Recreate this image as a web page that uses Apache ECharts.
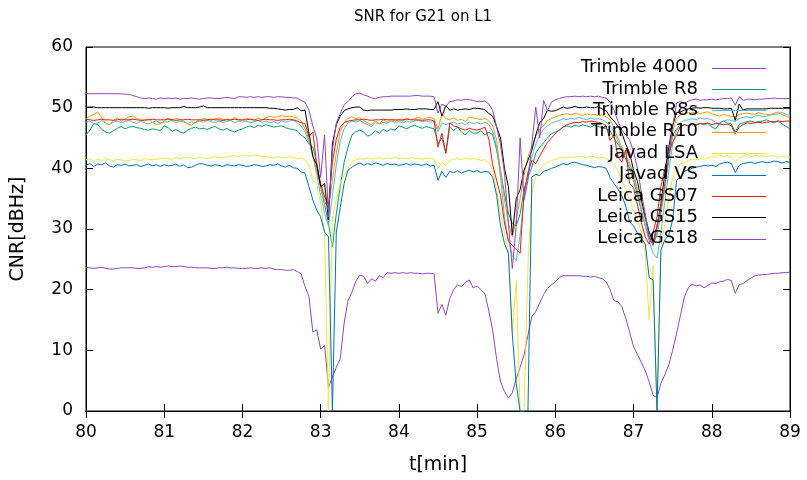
<!DOCTYPE html>
<html><head><meta charset="utf-8">
<script src="https://cdn.jsdelivr.net/npm/echarts@6/dist/echarts.min.js"></script>
<style>html,body{margin:0;padding:0;background:#fff}#c{width:807px;height:480px}</style>
</head><body><div id="c"></div>
<script>
const timeMin = [
80,80.05,80.1,80.15,80.2,80.25,80.3,80.35,80.4,80.45,80.5,80.55,80.6,80.65,80.7,80.75,80.8,80.85,80.9,80.95,
81,81.05,81.1,81.15,81.2,81.25,81.3,81.35,81.4,81.45,81.5,81.55,81.6,81.65,81.7,81.75,81.8,81.85,81.9,81.95,
82,82.05,82.1,82.15,82.2,82.25,82.3,82.35,82.4,82.45,82.5,82.55,82.6,82.65,82.7,82.75,82.8,82.85,82.9,82.95,
83,83.05,83.1,83.15,83.2,83.25,83.3,83.35,83.4,83.45,83.5,83.55,83.6,83.65,83.7,83.75,83.8,83.85,83.9,83.95,
84,84.05,84.1,84.15,84.2,84.25,84.3,84.35,84.4,84.45,84.5,84.55,84.6,84.65,84.7,84.75,84.8,84.85,84.9,84.95,
85,85.05,85.1,85.15,85.2,85.25,85.3,85.35,85.4,85.45,85.5,85.55,85.6,85.65,85.7,85.75,85.8,85.85,85.9,85.95,
86,86.05,86.1,86.15,86.2,86.25,86.3,86.35,86.4,86.45,86.5,86.55,86.6,86.65,86.7,86.75,86.8,86.85,86.9,86.95,
87,87.05,87.1,87.15,87.2,87.25,87.3,87.35,87.4,87.45,87.5,87.55,87.6,87.65,87.7,87.75,87.8,87.85,87.9,87.95,
88,88.05,88.1,88.15,88.2,88.25,88.3,88.35,88.4,88.45,88.5,88.55,88.6,88.65,88.7,88.75,88.8,88.85,88.9,88.95,89];

const trimble4000 = [
23.7,23.6,23.5,23.6,23.7,23.5,23.4,23.4,23.5,23.6,23.6,23.6,23.6,23.5,23.5,23.6,23.8,23.7,23.8,23.7,
23.8,23.9,23.8,23.8,23.9,23.8,23.7,23.7,23.6,23.6,23.6,23.6,23.5,23.5,23.6,23.6,23.7,23.6,23.6,23.5,
23.5,23.5,23.6,23.5,23.5,23.6,23.5,23.6,23.4,23.3,23.3,23.2,23.2,23.3,23.0,22.6,20.5,18.9,13.0,13.4,
10.2,10.8,3.9,5.6,7.2,8.6,14.5,18.2,19.6,21.4,22.4,22.2,21.0,21.8,21.4,22.3,22.0,22.8,22.7,22.8,
22.7,22.8,22.7,22.8,22.7,22.7,22.6,22.7,22.7,22.6,16.1,17.6,15.8,18.5,20.0,20.8,20.5,21.2,21.6,20.3,
20.6,20.0,19.3,16.5,13.2,8.5,4.8,3.2,2.1,3.0,5.3,7.2,9.3,12.5,15.6,16.4,17.8,19.2,20.2,20.8,
21.3,22.0,22.3,22.3,22.3,22.3,22.3,22.2,22.2,22.1,22.2,22.0,21.8,21.3,20.0,18.2,18.0,17.2,15.3,13.0,
10.6,9.3,8.0,6.6,4.8,2.6,2.2,4.6,6.0,7.6,10.0,12.8,15.8,18.8,20.3,20.9,20.6,20.8,20.3,20.7,
21.1,21.0,21.3,21.4,21.7,21.5,19.4,20.8,21.0,21.5,21.9,22.3,22.4,22.5,22.5,22.6,22.7,22.7,22.8,22.8,22.9];

const trimbleR8 = [
45.5,46.3,47.4,47.2,46.4,46.0,45.8,46.2,46.6,46.9,46.5,46.8,46.9,46.7,46.6,46.4,46.3,46.5,46.4,46.2,
47.0,46.7,46.1,46.4,46.0,45.8,46.3,46.6,46.8,46.5,46.6,46.4,46.7,46.9,46.5,46.3,46.6,46.2,46.0,46.3,
46.5,46.8,47.0,46.7,47.1,46.9,47.2,47.0,46.8,46.9,47.0,46.7,46.5,46.4,46.2,45.5,45.0,44.0,43.5,41.0,
37.0,34.0,31.0,27.0,32.5,37.0,41.0,43.5,45.5,46.0,46.3,46.0,45.3,45.6,46.2,45.8,46.4,46.1,46.5,46.3,
47.0,46.8,46.5,46.9,47.1,46.8,46.6,46.9,46.7,46.5,44.1,45.0,42.5,46.8,46.2,46.8,46.0,45.5,46.2,45.8,
45.8,46.2,45.5,46.0,45.5,43.0,39.5,35.8,32.6,30.9,30.5,32.5,36.5,38.6,40.2,42.5,43.5,44.2,45.0,45.7,
46.0,46.3,46.8,47.0,46.8,47.1,46.9,47.2,47.0,46.8,47.1,46.9,46.7,46.5,46.2,45.0,44.0,43.0,41.5,40.0,
38.0,35.5,33.0,30.5,28.5,27.5,29.0,33.0,37.0,41.5,45.5,46.5,46.8,47.2,47.0,47.3,47.1,47.4,47.2,47.4,
46.8,46.5,47.5,47.8,47.5,47.3,46.0,47.2,47.5,47.7,47.8,47.6,47.7,47.8,48.0,47.7,47.5,47.8,47.3,46.9,46.5];

const trimbleR8s = [
47.6,47.8,47.3,47.5,47.9,47.4,47.2,47.6,47.8,47.5,47.7,47.9,47.6,47.4,47.8,47.5,47.3,47.6,47.8,47.5,
47.6,47.7,47.9,47.5,47.8,47.6,47.4,47.7,47.5,47.8,47.6,47.9,47.7,47.5,47.8,47.6,47.7,47.9,47.5,47.8,
47.6,47.8,47.5,47.7,47.9,47.6,47.8,47.5,47.7,47.4,47.8,47.6,47.8,47.9,47.5,47.0,46.0,44.5,42.0,39.0,
35.5,32.5,30.5,35.5,40.5,44.5,46.5,47.5,47.8,47.6,47.9,47.5,47.2,46.9,47.5,47.3,47.6,47.4,47.8,47.6,
47.7,47.5,47.8,47.6,47.8,47.9,47.7,47.8,47.6,47.7,46.0,47.5,47.2,47.4,47.6,47.3,47.5,47.2,47.6,47.4,
47.5,47.3,47.6,47.2,46.0,43.5,38.5,32.0,28.2,25.5,24.8,29.0,35.0,39.5,41.9,44.0,45.5,46.5,47.0,47.5,
47.7,47.9,48.2,48.0,48.3,48.1,48.4,48.2,48.0,48.3,48.1,48.2,48.0,47.6,47.0,46.0,44.5,43.0,41.8,40.5,
38.5,36.0,33.0,30.5,28.0,26.0,25.2,29.5,34.5,39.5,44.0,46.3,47.5,47.9,48.0,48.2,48.0,48.3,48.1,48.2,
48.0,47.6,47.3,47.8,48.0,47.9,47.7,48.2,48.4,48.5,48.3,48.6,48.7,48.5,48.6,48.8,48.9,49.0,49.2,48.9,48.7];

const trimbleR10 = [
48.2,48.6,48.9,49.3,48.4,47.5,47.2,47.9,48.3,47.8,48.1,48.5,48.6,48.2,48.0,47.8,48.1,47.6,47.2,47.4,
47.8,48.3,48.0,48.2,48.1,47.8,47.3,47.1,47.6,48.0,48.2,48.1,47.9,48.2,48.3,48.0,48.1,47.9,48.4,48.0,
47.9,48.2,48.1,47.9,48.3,48.0,48.3,48.6,48.4,48.5,48.7,48.5,48.6,48.5,48.3,47.8,46.5,44.8,42.0,39.5,
37.0,34.5,33.5,38.0,42.5,46.0,47.6,48.2,48.5,48.2,48.3,47.9,47.5,47.2,47.8,47.4,48.0,47.6,48.1,47.8,
48.0,47.8,48.3,48.0,48.2,48.4,48.1,48.3,48.4,48.2,46.5,49.0,48.2,48.0,48.3,47.9,48.1,47.7,48.5,48.3,
48.2,48.0,48.3,47.8,47.0,44.6,39.5,34.8,30.9,28.7,31.5,35.0,38.8,41.9,43.5,45.3,46.5,47.0,47.9,48.2,
48.5,48.7,48.9,49.0,48.8,49.1,48.9,48.7,49.0,48.8,48.9,48.7,48.8,48.5,48.0,46.6,45.0,43.5,42.3,40.8,
39.2,36.5,34.0,31.5,29.0,27.3,29.5,32.5,36.5,42.0,46.0,48.3,48.8,49.0,49.2,49.1,49.3,49.0,49.2,49.3,
49.0,48.8,48.6,48.9,48.7,48.6,48.5,48.9,49.0,49.1,49.0,48.9,49.2,49.0,48.9,48.8,49.1,49.3,48.9,48.6,48.3];

const javadLSA = [
41.4,41.6,41.2,41.5,41.3,41.6,41.4,41.3,41.5,41.4,41.2,41.3,41.5,41.4,41.3,41.6,41.5,41.4,41.5,41.6,
41.7,41.6,41.5,41.8,41.6,41.7,41.8,41.7,41.6,41.8,41.7,41.6,41.8,41.9,41.8,41.7,41.9,42.0,42.1,41.9,
42.2,42.1,42.0,42.2,42.1,41.9,42.0,41.8,41.7,41.9,41.8,41.7,41.9,41.8,41.6,41.7,41.4,40.5,38.0,37.5,
34.0,29.5,0,32.0,34.8,37.5,38.8,40.0,41.1,41.4,41.6,41.5,41.7,41.5,41.6,41.8,41.5,41.7,41.6,41.8,
41.6,41.7,41.5,41.8,41.6,41.7,41.5,41.6,41.7,41.5,40.0,41.0,40.5,41.3,41.5,41.6,41.4,41.7,41.5,41.6,
41.5,41.3,41.4,41.0,39.5,36.5,32.5,29.3,26.5,12.8,21.5,0,0,24.0,36.0,38.6,39.8,40.5,41.0,41.3,
41.5,41.6,41.8,41.7,41.9,41.8,42.0,41.9,41.8,42.0,41.9,41.7,41.8,41.6,41.3,40.6,39.6,38.0,36.5,34.8,
33.0,31.5,29.5,26.0,15.0,24.0,0,27.0,30.9,35.0,38.5,39.7,40.8,41.0,41.3,41.5,41.4,41.6,41.5,41.7,
42.0,41.8,42.2,41.9,42.1,41.8,41.1,41.7,42.0,42.3,41.9,42.1,42.0,42.2,41.9,42.1,42.0,41.8,42.0,41.9,41.8];

const javadVS = [
40.5,40.8,40.3,40.7,40.6,40.9,40.4,40.2,40.6,40.5,40.7,40.4,40.5,40.6,40.3,40.5,40.7,40.4,40.6,40.3,
40.6,40.4,40.5,40.7,40.3,40.6,40.1,40.2,40.5,40.8,40.7,40.5,40.4,40.6,40.5,40.3,40.6,40.5,40.4,40.6,
40.5,40.3,40.4,40.6,40.5,40.3,40.4,40.6,40.5,40.7,40.4,40.2,40.5,40.1,40.0,39.4,39.2,37.0,34.8,33.1,
32.0,29.5,28.7,0,29.5,33.5,37.5,39.7,40.2,40.6,40.9,40.5,40.8,40.6,40.9,40.7,40.5,40.8,40.6,40.7,
40.5,40.6,40.8,40.5,40.7,40.6,40.5,40.7,40.4,40.5,38.0,39.5,38.5,39.5,39.3,39.6,39.2,39.5,39.7,39.4,
39.6,39.3,39.5,39.4,38.5,35.5,30.5,27.6,26.0,12.6,4.5,0,0,0,38.6,39.0,38.8,39.5,39.7,40.0,
40.2,40.5,40.8,40.6,40.9,41.0,40.8,40.6,40.5,40.3,40.1,40.3,40.2,40.0,38.5,37.5,36.6,35.5,33.8,31.2,
30.5,29.3,28.5,27.5,22.0,21.6,0,26.5,28.2,29.0,31.5,38.0,38.6,39.5,39.8,40.0,40.2,40.3,40.5,40.4,
40.5,40.3,40.7,40.9,41.0,40.8,39.3,40.5,40.8,40.9,41.0,40.8,41.0,41.1,40.9,41.0,41.2,41.1,40.9,41.1,41.0];

const leicaGS07 = [
48.1,48.0,47.9,48.0,48.1,48.0,48.0,47.9,48.0,48.1,48.0,48.0,48.1,48.0,47.9,48.0,48.0,48.1,48.0,48.0,
48.0,48.1,48.0,47.9,48.0,48.0,48.1,48.0,48.0,48.0,47.9,48.0,48.1,48.0,48.0,47.9,48.0,48.0,48.1,48.0,
48.0,48.0,48.1,48.0,47.9,48.0,48.1,48.0,48.0,47.9,48.0,48.0,48.1,48.0,47.8,47.5,47.4,45.2,46.0,40.5,
37.5,35.3,34.0,41.0,44.8,46.8,47.5,47.8,47.9,48.0,48.0,48.1,48.0,47.9,48.0,48.0,48.1,48.0,48.0,48.0,
48.0,48.0,48.1,48.0,48.0,48.0,47.9,48.0,48.0,47.8,43.5,45.8,42.5,47.5,47.0,46.8,46.5,46.3,46.6,46.4,
46.3,46.5,46.8,44.8,40.5,38.0,35.5,31.0,28.0,27.3,26.6,26.0,36.0,39.2,41.3,40.8,42.0,43.2,44.3,45.0,
45.7,46.3,46.8,47.2,47.4,47.6,47.5,47.7,47.6,47.8,47.7,47.6,47.4,47.0,44.6,45.5,41.9,41.0,43.0,37.5,
36.8,34.0,31.0,28.7,27.5,29.5,32.0,37.0,40.0,42.5,44.3,45.5,47.0,47.2,47.0,47.3,47.2,47.4,47.3,47.5,
47.2,47.4,47.3,47.2,47.3,47.0,45.7,46.8,47.2,47.5,47.4,47.5,47.6,47.5,47.6,47.7,47.7,47.8,47.7,47.8,47.8];

const leicaGS15 = [
50.1,50.1,50.1,50.0,50.0,50.0,50.0,50.0,50.0,50.0,50.0,50.0,50.0,50.0,50.0,50.0,49.9,50.0,50.0,50.0,
50.0,49.9,50.0,50.0,50.0,50.2,50.0,50.0,50.0,50.1,50.3,50.0,50.0,50.0,50.0,50.0,50.0,50.0,50.0,50.0,
50.0,50.0,50.0,50.0,50.0,50.0,50.0,49.9,49.9,49.8,49.7,49.6,49.7,49.7,50.0,49.5,49.6,45.8,42.0,40.5,
37.0,37.5,31.5,44.0,47.2,48.6,49.5,49.8,50.0,50.1,50.1,49.6,49.5,49.6,49.6,49.6,49.6,49.6,49.6,49.7,
49.7,49.7,49.8,49.7,49.7,49.8,49.8,49.8,49.7,49.7,51.0,48.6,50.3,49.6,49.8,49.6,49.7,49.8,49.7,49.9,
49.9,49.8,49.7,49.0,48.6,46.8,45.0,40.0,37.0,29.0,35.0,36.5,39.7,41.3,43.0,45.5,47.5,48.2,49.6,49.4,
49.5,49.8,50.1,49.9,50.0,50.2,50.0,50.0,50.1,50.0,50.0,50.2,49.8,49.5,48.5,47.8,47.0,45.8,44.0,42.5,
39.7,37.8,34.8,32.0,29.5,27.8,30.5,34.2,39.2,43.5,47.0,49.2,49.3,49.6,49.8,49.9,50.0,49.9,50.0,50.0,
49.9,49.9,49.9,49.8,49.8,49.9,47.9,50.6,49.6,49.8,49.8,49.8,49.8,49.8,49.8,49.9,49.9,49.9,49.9,49.9,49.9];

const leicaGS18 = [
52.3,52.3,52.3,52.3,52.3,52.3,52.3,52.3,52.3,52.3,52.2,52.2,52.0,51.8,51.6,51.5,51.6,51.5,51.4,51.6,
51.5,51.6,51.5,51.6,51.4,51.5,51.5,51.6,51.5,51.4,51.5,51.6,51.6,51.5,51.5,51.6,51.7,51.6,51.5,51.8,
51.8,51.7,51.8,51.7,51.8,51.7,51.8,51.8,51.7,51.8,51.8,51.7,51.7,51.6,51.6,51.2,50.9,49.6,47.0,45.0,
38.5,45.5,32.0,43.0,47.5,49.0,50.5,51.0,51.8,52.3,52.4,52.1,51.9,51.6,51.5,51.7,51.8,51.8,51.9,51.9,
51.9,51.9,51.9,51.9,52.0,52.0,51.9,51.9,51.9,51.8,49.1,50.6,50.2,51.0,51.1,51.3,51.2,51.4,51.3,51.2,
51.0,51.0,51.1,50.6,49.5,46.8,43.8,39.2,31.0,23.5,30.5,45.0,34.8,38.0,44.0,50.1,45.0,51.2,49.5,50.9,
51.3,51.5,51.7,51.8,51.8,51.9,51.8,51.9,51.8,51.9,51.8,51.9,51.7,51.6,50.9,49.6,47.8,46.3,45.5,44.7,
42.7,40.0,36.0,32.5,28.5,27.3,30.5,34.0,37.5,41.9,47.0,50.8,51.0,50.7,51.1,51.3,51.4,51.2,51.3,51.3,
51.4,51.3,51.4,51.5,51.5,51.6,50.4,51.8,51.2,51.4,51.4,51.3,51.4,51.4,51.5,51.5,51.6,51.5,51.5,51.5,51.5];

const seriesNames = ['Trimble 4000','Trimble R8','Trimble R8s','Trimble R10','Javad LSA','Javad VS','Leica GS07','Leica GS15','Leica GS18'];
const seriesValues = [trimble4000, trimbleR8, trimbleR8s, trimbleR10, javadLSA, javadVS, leicaGS07, leicaGS15, leicaGS18];
const seriesColors = ['#9146c2','#009e73','#56b4e9','#e69f00','#f0e442','#0072b2','#e51e10','#000000','#9146c2'];

const FONT = 'DejaVu Sans';
const chart = echarts.init(document.getElementById('c'), null, {renderer: 'canvas'});

const legendGraphics = [];
seriesNames.forEach((name, k) => {
  const y = 67.5 + 21.4 * k;
  legendGraphics.push({
    type: 'text', x: 698, y: y, z: 100,
    style: {text: name, align: 'right', verticalAlign: 'middle', font: '18px "' + FONT + '"', fill: '#000'}
  });
  legendGraphics.push({
    type: 'line', z: 100,
    shape: {x1: 712, y1: Math.round(y) + 0.5, x2: 766, y2: Math.round(y) + 0.5},
    style: {stroke: seriesColors[k], lineWidth: 1}
  });
});
legendGraphics.push({
  type: 'text', x: 423, y: 17, z: 100,
  style: {text: 'SNR for G21 on L1', align: 'center', verticalAlign: 'middle', font: '15px "' + FONT + '"', fill: '#000'}
});

const axisCommon = {
  type: 'value',
  axisLine: {show: true, lineStyle: {color: '#000', width: 1}},
  axisTick: {show: true, inside: true, length: 7, lineStyle: {color: '#000', width: 1}},
  splitLine: {show: false}
};

chart.setOption({
  animation: false,
  backgroundColor: '#fff',
  grid: {left: 86, right: 17, top: 47, bottom: 69, show: true, borderColor: '#000', borderWidth: 1, backgroundColor: 'transparent'},
  xAxis: [
    Object.assign({}, axisCommon, {
      min: 80, max: 89, interval: 1, position: 'bottom',
      name: 't[min]', nameLocation: 'middle', nameGap: 45,
      nameTextStyle: {fontFamily: FONT, fontSize: 19, color: '#000'},
      axisLabel: {fontFamily: FONT, fontSize: 17, color: '#000', margin: 13}
    }),
    Object.assign({}, axisCommon, {
      min: 80, max: 89, interval: 1, position: 'top',
      axisLabel: {show: false}
    })
  ],
  yAxis: [
    Object.assign({}, axisCommon, {
      min: 0, max: 60, interval: 10, position: 'left',
      name: 'CNR[dBHz]', nameLocation: 'middle', nameGap: 58, nameRotate: 90,
      nameTextStyle: {fontFamily: FONT, fontSize: 19, color: '#000'},
      axisLabel: {fontFamily: FONT, fontSize: 17, color: '#000', margin: 13}
    }),
    Object.assign({}, axisCommon, {
      min: 0, max: 60, interval: 10, position: 'right',
      axisLabel: {show: false}
    })
  ],
  graphic: legendGraphics,
  series: seriesNames.map((name, k) => ({
    name: name,
    type: 'line',
    xAxisIndex: 0, yAxisIndex: 0,
    showSymbol: false,
    symbol: 'none',
    data: timeMin.map((t, i) => [t, seriesValues[k][i]]),
    lineStyle: {color: seriesColors[k], width: 1},
    itemStyle: {color: seriesColors[k]},
    emphasis: {disabled: true},
    clip: true
  }))
});
</script>
</body></html>
